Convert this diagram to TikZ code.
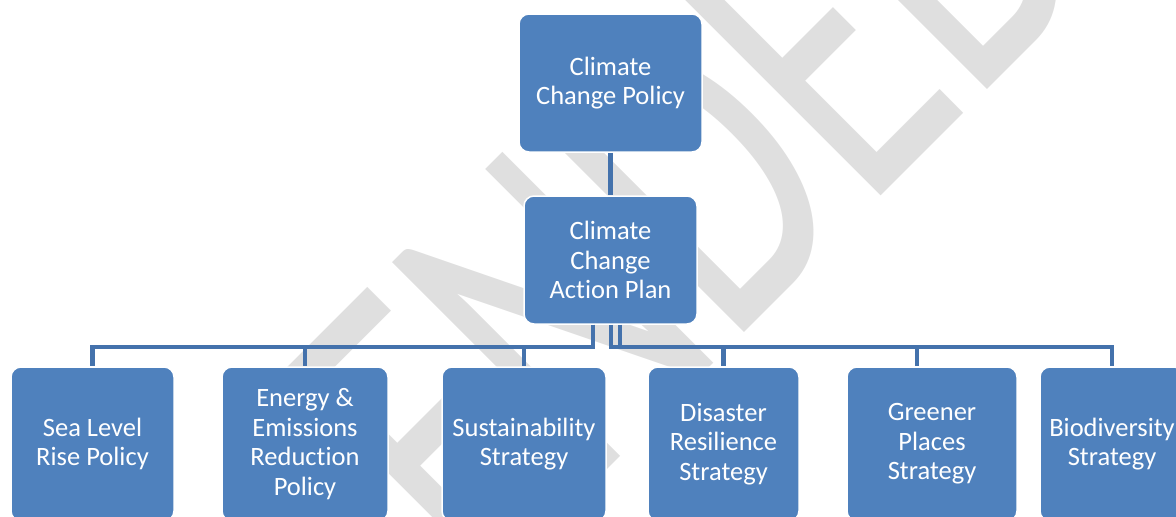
\documentclass[tikz,border=0pt]{standalone}
\usepackage{fontspec}
\setmainfont{Carlito}[Ligatures=NoCommon]
\newfontfamily\wmfont{Carlito}
\usetikzlibrary{positioning,calc}
\definecolor{orgblue}{RGB}{79,129,189}
\definecolor{linkblue}{RGB}{68,114,172}
\definecolor{wmgray}{RGB}{223,223,223}
\tikzset{
  org/.style={draw=white,line width=1.5pt,fill=orgblue,rounded corners=10pt,align=center,text=white,font=\fontsize{26.5}{29.5}\selectfont,inner sep=2pt},
  conn/.style={draw=linkblue,line width=4.5pt},
  wm/.style={text=wmgray,inner sep=0pt,anchor=base west,rotate=45,font=\wmfont\fontsize{465}{465}\selectfont}
}

\begin{document}
\begin{tikzpicture}[x=1pt,y=-1pt,bx/.style={org,minimum height=154pt}]
\useasboundingbox (0,0) rectangle (1176,517);
\clip (0,0) rectangle (1176,517);
% watermark
\node[wm] (mark) at (164,913) {\scalebox{0.67}[1]{AMENDED}};
% boxes
\node[org,minimum width=183pt,minimum height=138pt] (ccp) at (610.5,83) {Climate\\Change Policy};
\node[org,minimum width=173pt,minimum height=128pt] (ccap) at (610.5,260) {Climate\\Change\\Action Plan};
\node[bx,minimum width=163pt] (sea) at (92.5,444) {Sea Level\\Rise Policy};
\node[bx,minimum width=166pt] (ener) at (305,444) {Energy \&\\Emissions\\Reduction\\Policy};
\node[bx,minimum width=164pt] (sust) at (524,444) {Sustainability\\Strategy};
\node[bx,minimum width=151pt] (dis) at (723.5,444) {Disaster\\Resilience\\Strategy};
\node[bx,minimum width=170pt] (green) at (932,444) {Greener\\Places\\Strategy};
\node[bx,minimum width=144pt] (bio) at (1112,444) {Biodiversity\\Strategy};
% connectors
\coordinate (bar) at (0,347);
\coordinate (greentop) at ([xshift=-15pt]green.north);
\draw[conn] (ccp) -- (ccap);
\draw[conn] ([xshift=-17.5pt]ccap.south) |- (bar -| sea.north) -- (sea.north);
\draw[conn] ([xshift=-17.5pt]ccap.south) |- (bar -| ener.north) -- (ener.north);
\draw[conn] ([xshift=-17.5pt]ccap.south) |- (bar -| sust.north) -- (sust.north);
\draw[conn] ([xshift=0.5pt]ccap.south) |- (bar -| dis.north) -- (dis.north);
\draw[conn] ([xshift=9.5pt]ccap.south) |- (bar -| greentop) -- (greentop);
\draw[conn] ([xshift=9.5pt]ccap.south) |- (bar -| bio.north) -- (bio.north);
\end{tikzpicture}
\end{document}
